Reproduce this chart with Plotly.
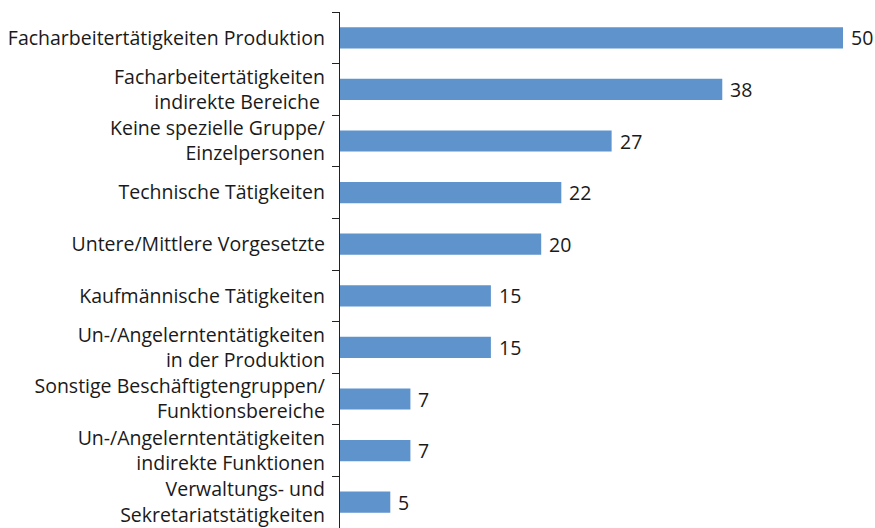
import plotly.graph_objects as go

categories = [
    "Facharbeitertätigkeiten Produktion",
    "Facharbeitertätigkeiten<br>indirekte Bereiche ",
    "Keine spezielle Gruppe/<br>Einzelpersonen",
    "Technische Tätigkeiten",
    "Untere/Mittlere Vorgesetzte",
    "Kaufmännische Tätigkeiten",
    "Un-/Angelerntentätigkeiten<br>in der Produktion",
    "Sonstige Beschäftigtengruppen/<br>Funktionsbereiche",
    "Un-/Angelerntentätigkeiten<br>indirekte Funktionen",
    "Verwaltungs- und<br>Sekretariatstätigkeiten",
]
values = [50, 38, 27, 22, 20, 15, 15, 7, 7, 5]

FONT = "Open Sans"
TXT = "#1a1a1a"

fig = go.Figure(go.Bar(
    x=values, y=categories, orientation="h",
    marker=dict(color="#5F93CC", line=dict(width=0)),
    width=0.41, hoverinfo="skip",
))

for c, v in zip(categories, values):
    fig.add_annotation(x=v, y=c, text=str(v), showarrow=False, xanchor="left",
                       xshift=6, font=dict(family=FONT, size=19.5, color=TXT))

fig.update_layout(
    width=875, height=528,
    margin=dict(l=340, r=32, t=12, b=0, autoexpand=False),
    plot_bgcolor="white", paper_bgcolor="white",
    showlegend=False,
    xaxis=dict(range=[0, 50], visible=False, fixedrange=True),
    yaxis=dict(
        autorange="reversed", type="category", automargin=False,
        showline=True, linecolor="#222222", linewidth=1.3,
        ticks="outside", tickson="boundaries", ticklen=7, tickcolor="#222222",
        tickwidth=1.3, fixedrange=True,
        showgrid=False, zeroline=False,
        tickfont=dict(family=FONT, size=19.5, color=TXT),
        ticklabelstandoff=10,
    ),
)

fig.write_html(
    "out.html",
    config={"displayModeBar": False},
    post_script="document.body.style.margin='0';document.body.style.overflow='hidden';",
)
